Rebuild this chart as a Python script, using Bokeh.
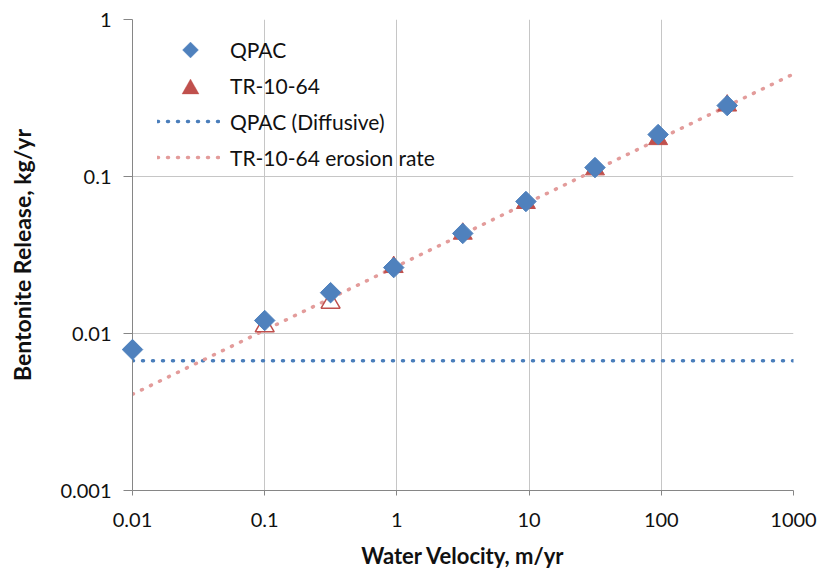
from bokeh.plotting import figure
from bokeh.models import (FixedTicker, CustomJSTickFormatter, Legend, LegendItem,
                          PolyAnnotation)
from bokeh.embed import file_html
from bokeh.resources import INLINE
import numpy as np

# Measured bentonite release vs. groundwater velocity
velocity = [0.01, 0.1, 0.315, 0.946, 3.15, 9.46, 31.5, 94.6, 315]
qpac_release = [0.0079, 0.0121, 0.0182, 0.0263, 0.0434, 0.0693, 0.114, 0.185, 0.283]

# TR-10-64 values (open symbols where outside the fitted range)
tr_velocity_open = [0.1, 0.315]
tr_release_open = [0.0111, 0.0157]
tr_velocity = [0.946, 3.15, 9.46, 31.5, 94.6, 315]
tr_release = [0.0265, 0.0432, 0.0678, 0.111, 0.173, 0.283]

# Reference lines
diffusive_velocity = [0.01, 1000]
diffusive_release = [0.0067, 0.0067]
erosion_velocity = [0.01, 1000]
erosion_release = [0.0041, 0.45]

x_ticks = [0.01, 0.1, 1, 10, 100, 1000]
y_ticks = [0.001, 0.01, 0.1, 1]

FONT = "Lato"
BLUE = "#4F81BD"
RED = "#C0504D"
PINK = "#E39C9B"
DOT_BLUE = "#4A7EBB"
TEXT = "#111111"

FRAME_W, FRAME_H = 661, 471
LEFT, TOP = 132, 19

p = figure(
    x_axis_type="log", y_axis_type="log",
    x_range=(0.01, 1000), y_range=(0.001, 1),
    frame_width=FRAME_W, frame_height=FRAME_H,
    min_border_left=LEFT, min_border_right=30,
    min_border_top=TOP, min_border_bottom=86,
    output_backend="svg", toolbar_location=None,
)
p.outline_line_color = None
p.background_fill_color = "white"
p.border_fill_color = "white"

fmt = CustomJSTickFormatter(code="return tick.toString();")
p.xaxis.ticker = FixedTicker(ticks=x_ticks)
p.yaxis.ticker = FixedTicker(ticks=y_ticks)
p.xaxis.formatter = fmt
p.yaxis.formatter = fmt

for ax in (p.xaxis[0], p.yaxis[0]):
    ax.axis_line_color = "#868686"
    ax.major_tick_line_color = "#868686"
    ax.major_tick_in = 0
    ax.minor_tick_line_color = None
    ax.major_label_text_font = FONT
    ax.major_label_text_font_size = "20px"
    ax.major_label_text_color = TEXT
    ax.axis_label_text_font = FONT
    ax.axis_label_text_font_style = "bold"
    ax.axis_label_text_color = TEXT

p.xaxis.axis_label = "Water Velocity, m/yr"
p.yaxis.axis_label = "Bentonite Release, kg/yr"
p.xaxis.axis_label_text_font_size = "22px"
p.yaxis.axis_label_text_font_size = "23px"
p.xaxis.major_tick_out = 5
p.yaxis.major_tick_out = 9
p.xaxis.major_label_standoff = 17
p.xaxis.axis_label_standoff = 12
p.yaxis.major_label_standoff = 12
p.yaxis.axis_label_standoff = 21

p.xgrid.ticker = FixedTicker(ticks=x_ticks)
p.ygrid.ticker = FixedTicker(ticks=y_ticks)
p.xgrid.grid_line_color = "#C6C6C6"
p.ygrid.grid_line_color = "#C6C6C6"

diff_r = p.line(diffusive_velocity, diffusive_release, line_color=DOT_BLUE,
                line_width=3.5, line_dash="1 9", line_cap="round")
ero_r = p.line(erosion_velocity, erosion_release, line_color=PINK,
               line_width=3.5, line_dash="1 9", line_cap="round")

p.scatter(tr_velocity_open, tr_release_open, marker="triangle", size=19,
          fill_color="white", line_color=RED, line_width=1.5)
p.scatter(tr_velocity, tr_release, marker="triangle", size=19,
          fill_color=RED, line_color=RED)
# diamonds sit above the axis line so the first point is drawn whole
p.scatter(velocity, qpac_release, marker="square", angle=np.pi / 4,
          size=14.5, fill_color=BLUE, line_color=BLUE, level="overlay")

# legend entries for the two symbol series; their keys are drawn separately
qpac_key = p.scatter(x=[], y=[], marker="square", alpha=0)
tr_key = p.scatter(x=[], y=[], marker="triangle", alpha=0)

legend = Legend(items=[
    LegendItem(label="QPAC", renderers=[qpac_key]),
    LegendItem(label="TR-10-64", renderers=[tr_key]),
    LegendItem(label="QPAC (Diffusive)", renderers=[diff_r]),
    LegendItem(label="TR-10-64 erosion rate", renderers=[ero_r]),
], location=(25, 320))
legend.margin = 0
legend.padding = 0
legend.spacing = 10
legend.glyph_width = 63
legend.glyph_height = 26
legend.label_height = 26
legend.label_standoff = 10
legend.label_text_font = FONT
legend.label_text_font_size = "21px"
legend.label_text_color = TEXT
legend.border_line_color = None
legend.background_fill_alpha = 0
p.add_layout(legend)


def to_frame(points):
    """Canvas pixel positions -> frame screen units (y up from frame bottom)."""
    xs = [x - LEFT for x, _ in points]
    ys = [TOP + FRAME_H - y for _, y in points]
    return xs, ys


# diamond key for QPAC
dx, dy = to_frame([(190, 41.5), (198, 49.5), (190, 57.5), (182, 49.5)])
p.add_layout(PolyAnnotation(xs=dx, ys=dy, xs_units="screen", ys_units="screen",
                            fill_color=BLUE, fill_alpha=1, line_color=BLUE))
# triangle key for TR-10-64
tx, ty = to_frame([(190, 78.5), (198.5, 93.5), (181.5, 93.5)])
p.add_layout(PolyAnnotation(xs=tx, ys=ty, xs_units="screen", ys_units="screen",
                            fill_color=RED, fill_alpha=1, line_color=RED))

open("out.html", "w").write(file_html(p, INLINE))
